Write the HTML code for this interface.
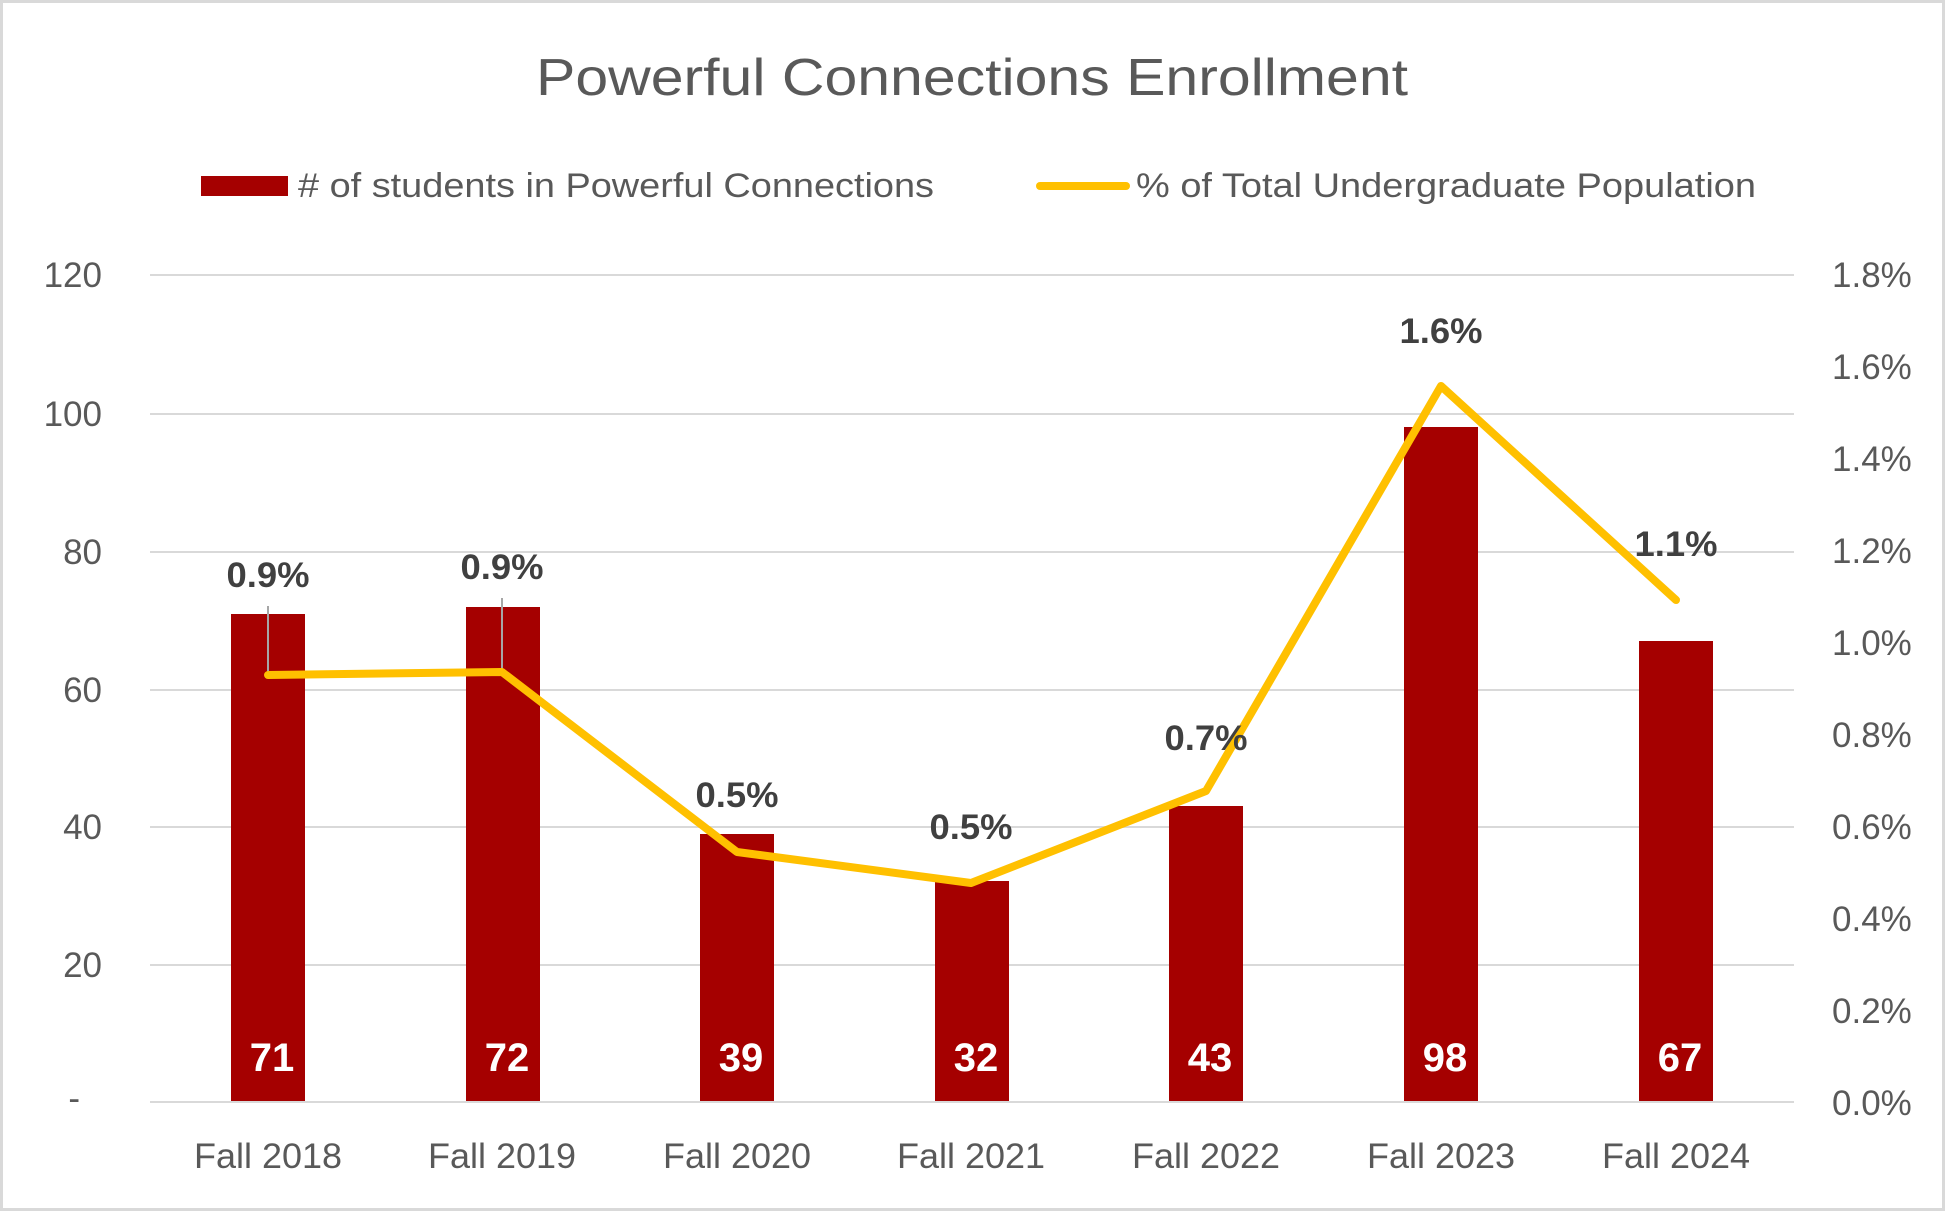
<!DOCTYPE html>
<html><head><meta charset="utf-8"><style>
html,body{margin:0;padding:0;background:#fff;}
svg{display:block;}
text{font-family:"Liberation Sans",sans-serif;}
</style></head><body>
<svg width="1945" height="1211" viewBox="0 0 1945 1211" xmlns="http://www.w3.org/2000/svg">
<rect x="1.5" y="1.5" width="1942" height="1208" fill="#fff" stroke="#d9d9d9" stroke-width="3"/>
<text x="972" y="95" text-anchor="middle" font-size="52" fill="#595959" textLength="872" lengthAdjust="spacingAndGlyphs">Powerful Connections Enrollment</text>
<rect x="201" y="176" width="87" height="20" fill="#a50000"/>
<text x="298" y="197" font-size="34" fill="#595959" textLength="636" lengthAdjust="spacingAndGlyphs"># of students in Powerful Connections</text>
<line x1="1040" y1="186" x2="1126" y2="186" stroke="#ffc000" stroke-width="8" stroke-linecap="round"/>
<text x="1136" y="197" font-size="34" fill="#595959" textLength="620" lengthAdjust="spacingAndGlyphs">% of Total Undergraduate Population</text>
<g stroke="#d9d9d9" stroke-width="2">
<line x1="150" y1="275" x2="1794" y2="275"/>
<line x1="150" y1="414" x2="1794" y2="414"/>
<line x1="150" y1="552" x2="1794" y2="552"/>
<line x1="150" y1="690" x2="1794" y2="690"/>
<line x1="150" y1="827" x2="1794" y2="827"/>
<line x1="150" y1="965" x2="1794" y2="965"/>
<line x1="150" y1="1102" x2="1794" y2="1102"/>
</g>
<g font-size="35" fill="#595959" text-anchor="end">
<text x="102" y="287">120</text><text x="102" y="426">100</text><text x="102" y="564">80</text>
<text x="102" y="702">60</text><text x="102" y="839">40</text><text x="102" y="977">20</text><text x="80" y="1110">-</text>
</g>
<g font-size="35" fill="#595959">
<text x="1832" y="287">1.8%</text><text x="1832" y="379">1.6%</text><text x="1832" y="471">1.4%</text>
<text x="1832" y="563">1.2%</text><text x="1832" y="655">1.0%</text><text x="1832" y="747">0.8%</text>
<text x="1832" y="839">0.6%</text><text x="1832" y="931">0.4%</text><text x="1832" y="1023">0.2%</text><text x="1832" y="1115">0.0%</text>
</g>
<g fill="#a50000">
<rect x="231" y="614" width="74" height="487"/>
<rect x="466" y="607" width="74" height="494"/>
<rect x="700" y="834" width="74" height="267"/>
<rect x="935" y="881" width="74" height="220"/>
<rect x="1169" y="806" width="74" height="295"/>
<rect x="1404" y="427" width="74" height="674"/>
<rect x="1639" y="641" width="74" height="460"/>
</g>
<g font-size="40" font-weight="bold" fill="#fff" text-anchor="middle">
<text x="272" y="1071">71</text><text x="507" y="1071">72</text><text x="741" y="1071">39</text>
<text x="976" y="1071">32</text><text x="1210" y="1071">43</text><text x="1445" y="1071">98</text><text x="1680" y="1071">67</text>
</g>
<line x1="268" y1="606" x2="268" y2="673" stroke="#a6a6a6" stroke-width="2"/>
<line x1="502" y1="598" x2="502" y2="670" stroke="#a6a6a6" stroke-width="2"/>
<polyline points="268,675 502,672 737,852 971,883 1206,791 1441,386 1676,600" fill="none" stroke="#ffc000" stroke-width="8" stroke-linejoin="round" stroke-linecap="round"/>
<g font-size="35" font-weight="bold" fill="#404040" text-anchor="middle">
<text x="268" y="587" textLength="83" lengthAdjust="spacingAndGlyphs">0.9%</text><text x="502" y="579" textLength="83" lengthAdjust="spacingAndGlyphs">0.9%</text><text x="737" y="807" textLength="83" lengthAdjust="spacingAndGlyphs">0.5%</text>
<text x="971" y="839" textLength="83" lengthAdjust="spacingAndGlyphs">0.5%</text><text x="1206" y="750" textLength="83" lengthAdjust="spacingAndGlyphs">0.7%</text><text x="1441" y="343" textLength="83" lengthAdjust="spacingAndGlyphs">1.6%</text><text x="1676" y="556" textLength="83" lengthAdjust="spacingAndGlyphs">1.1%</text>
</g>
<g font-size="35" fill="#595959" text-anchor="middle">
<text x="268" y="1168" textLength="148" lengthAdjust="spacingAndGlyphs">Fall 2018</text><text x="502" y="1168" textLength="148" lengthAdjust="spacingAndGlyphs">Fall 2019</text><text x="737" y="1168" textLength="148" lengthAdjust="spacingAndGlyphs">Fall 2020</text>
<text x="971" y="1168" textLength="148" lengthAdjust="spacingAndGlyphs">Fall 2021</text><text x="1206" y="1168" textLength="148" lengthAdjust="spacingAndGlyphs">Fall 2022</text><text x="1441" y="1168" textLength="148" lengthAdjust="spacingAndGlyphs">Fall 2023</text><text x="1676" y="1168" textLength="148" lengthAdjust="spacingAndGlyphs">Fall 2024</text>
</g>
</svg>
</body></html>
